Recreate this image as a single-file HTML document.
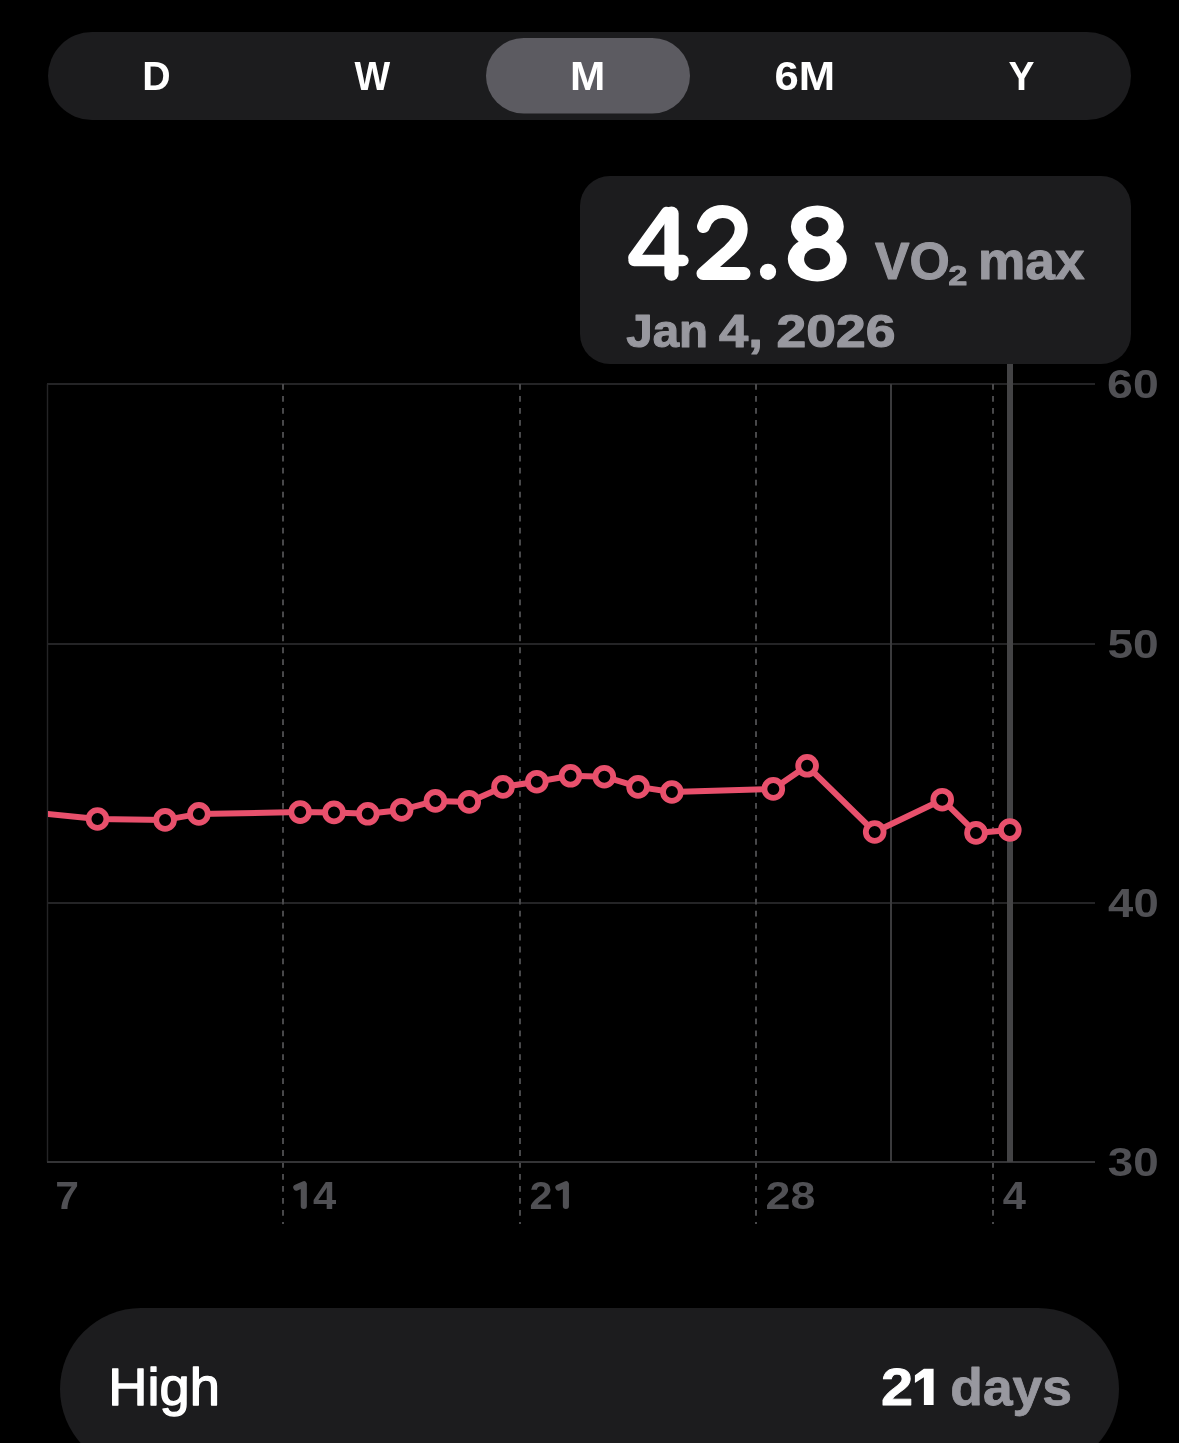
<!DOCTYPE html>
<html><head><meta charset="utf-8"><title>VO2 max</title>
<style>
html,body{margin:0;padding:0;background:#000;width:1179px;height:1443px;overflow:hidden}
svg{display:block;will-change:transform}
text{font-family:"Liberation Sans",sans-serif;font-kerning:none}
</style></head><body>
<svg width="1179" height="1443" viewBox="0 0 1179 1443">
<rect width="1179" height="1443" fill="#000"/>
<rect x="48" y="32" width="1083" height="88" rx="44" fill="#1C1C1E"/>
<rect x="486" y="38" width="204" height="75.5" rx="37.75" fill="#5C5B61"/>
<text transform="translate(142.17 90.00) scale(0.9725 1)" font-size="40.41" font-weight="700" fill="#fff">D</text>
<text transform="translate(354.46 90.00) scale(0.9354 1)" font-size="40.41" font-weight="700" fill="#fff">W</text>
<text transform="translate(569.97 90.00) scale(1.0476 1)" font-size="40.41" font-weight="700" fill="#fff">M</text>
<text transform="translate(774.40 90.00) scale(1.0799 1)" font-size="40.41" font-weight="700" fill="#fff">6M</text>
<text transform="translate(1008.43 90.00) scale(0.9645 1)" font-size="40.41" font-weight="700" fill="#fff">Y</text>
<rect x="580" y="176" width="551" height="188" rx="30" fill="#1C1C1E"/>
<g fill="none" stroke="#fff" stroke-linecap="round" stroke-linejoin="round"><path d="M682.9 260.5 L634.1 260.5" stroke-width="11.5"/><path d="M633.6 257.5 L666.5 212.2" stroke-width="10.8"/><path d="M671.5 213.65 L671.5 273.65" stroke-width="14.3"/><path d="M703.5 226.5 C707 216 714 211.5 722.5 211.5 C733.5 211.5 741.2 219 741.2 229 C741.2 237 737 243 729 250.5 L703 273.5 L744 273.5" stroke-width="13"/></g>
<circle cx="768" cy="271.8" r="8.1" fill="#fff"/>
<ellipse cx="817.3" cy="259" rx="29.5" ry="22.5" fill="#fff"/>
<ellipse cx="817.35" cy="226.7" rx="26.45" ry="21.2" fill="#fff"/>
<ellipse cx="817.15" cy="226.7" rx="11.35" ry="9.7" fill="#1C1C1E"/>
<ellipse cx="817.15" cy="259" rx="13.05" ry="11.05" fill="#1C1C1E"/>
<text transform="translate(874.90 279.35) scale(0.9995 1)" font-size="51.75" font-weight="700" fill="#98989F" stroke="#98989F" stroke-width="1.10" stroke-linejoin="round">VO</text>
<text transform="translate(948.38 284.95) scale(1.2174 1)" font-size="27.64" font-weight="700" fill="#98989F" stroke="#98989F" stroke-width="1.10" stroke-linejoin="round">2</text>
<text transform="translate(978.04 279.25) scale(1.0112 1)" font-size="52.62" font-weight="700" fill="#98989F" stroke="#98989F" stroke-width="1.10" stroke-linejoin="round">max</text>
<text transform="translate(626.33 347.25) scale(1.0463 1)" font-size="45.35" font-weight="700" fill="#98989F" stroke="#98989F" stroke-width="1.10" stroke-linejoin="round">Jan</text>
<text transform="translate(719.05 347.25) scale(1.1502 1)" font-size="45.79" font-weight="700" fill="#98989F" stroke="#98989F" stroke-width="1.10" stroke-linejoin="round">4,</text>
<text transform="translate(776.50 347.25) scale(1.1707 1)" font-size="45.69" font-weight="700" fill="#98989F" stroke="#98989F" stroke-width="1.10" stroke-linejoin="round">2026</text>
<line x1="47" y1="384.0" x2="1095" y2="384.0" stroke="#242426" stroke-width="2"/>
<line x1="47" y1="644.0" x2="1095" y2="644.0" stroke="#242426" stroke-width="2"/>
<line x1="47" y1="903.0" x2="1095" y2="903.0" stroke="#242426" stroke-width="2"/>
<line x1="47.5" y1="384" x2="47.5" y2="1162" stroke="#242426" stroke-width="1.4"/>
<line x1="891" y1="384" x2="891" y2="1162" stroke="#3A3A3C" stroke-width="2"/>
<line x1="283.0" y1="384" x2="283.0" y2="1224" stroke="#48484A" stroke-width="2" stroke-dasharray="5.8 6.17"/>
<line x1="520.0" y1="384" x2="520.0" y2="1224" stroke="#48484A" stroke-width="2" stroke-dasharray="5.8 6.17"/>
<line x1="756.0" y1="384" x2="756.0" y2="1224" stroke="#48484A" stroke-width="2" stroke-dasharray="5.8 6.17"/>
<line x1="993.0" y1="384" x2="993.0" y2="1224" stroke="#48484A" stroke-width="2" stroke-dasharray="5.8 6.17"/>
<line x1="47" y1="1162" x2="1095" y2="1162" stroke="#343436" stroke-width="2"/>
<line x1="1010" y1="364" x2="1010" y2="1162" stroke="#434345" stroke-width="6"/>
<text transform="translate(1107.10 398.20) scale(1.1487 1)" font-size="40.39" font-weight="700" fill="#505054">60</text>
<text transform="translate(1107.38 658.10) scale(1.1422 1)" font-size="40.39" font-weight="700" fill="#505054">50</text>
<text transform="translate(1108.11 916.90) scale(1.1253 1)" font-size="40.39" font-weight="700" fill="#505054">40</text>
<text transform="translate(1107.75 1176.10) scale(1.1337 1)" font-size="40.39" font-weight="700" fill="#505054">30</text>
<text transform="translate(55.17 1208.80) scale(1.0783 1)" font-size="39.53" font-weight="700" fill="#505054">7</text>
<text transform="translate(312.97 1208.80) scale(1.0580 1)" font-size="39.53" font-weight="700" fill="#505054">4</text>
<text transform="translate(529.57 1208.80) scale(1.0457 1)" font-size="39.53" font-weight="700" fill="#505054">2</text>
<text transform="translate(765.55 1208.80) scale(1.1334 1)" font-size="39.53" font-weight="700" fill="#505054">28</text>
<text transform="translate(1002.77 1208.80) scale(1.0532 1)" font-size="39.53" font-weight="700" fill="#505054">4</text>
<path d="M296.3 1187.6 L303.8 1184.2 L303.8 1206" fill="none" stroke="#505054" stroke-width="6.1" stroke-linecap="round" stroke-linejoin="round"/>
<path d="M558.4 1187.6 L565.9 1184.2 L565.9 1206" fill="none" stroke="#505054" stroke-width="6.1" stroke-linecap="round" stroke-linejoin="round"/>
<clipPath id="cp"><rect x="48" y="300" width="1100" height="900"/></clipPath>
<path d="M28.0 812.0 L97.5 819.0 L165.1 819.9 L198.9 813.9 L300.2 812.1 L334.0 812.4 L367.8 813.8 L401.6 809.9 L435.4 800.9 L469.2 801.9 L503.0 786.9 L536.8 781.7 L570.5 775.8 L604.3 776.7 L638.1 786.9 L671.9 792.0 L773.3 788.9 L807.1 765.8 L874.7 832.0 L942.2 799.7 L976.0 832.9 L1009.8 830.0" fill="none" stroke="#E8506C" stroke-width="6" stroke-linejoin="round" clip-path="url(#cp)"/>
<circle cx="97.5" cy="819.0" r="8.9" fill="#000" stroke="#E8506C" stroke-width="5.8"/>
<circle cx="165.1" cy="819.9" r="8.9" fill="#000" stroke="#E8506C" stroke-width="5.8"/>
<circle cx="198.9" cy="813.9" r="8.9" fill="#000" stroke="#E8506C" stroke-width="5.8"/>
<circle cx="300.2" cy="812.1" r="8.9" fill="#000" stroke="#E8506C" stroke-width="5.8"/>
<circle cx="334.0" cy="812.4" r="8.9" fill="#000" stroke="#E8506C" stroke-width="5.8"/>
<circle cx="367.8" cy="813.8" r="8.9" fill="#000" stroke="#E8506C" stroke-width="5.8"/>
<circle cx="401.6" cy="809.9" r="8.9" fill="#000" stroke="#E8506C" stroke-width="5.8"/>
<circle cx="435.4" cy="800.9" r="8.9" fill="#000" stroke="#E8506C" stroke-width="5.8"/>
<circle cx="469.2" cy="801.9" r="8.9" fill="#000" stroke="#E8506C" stroke-width="5.8"/>
<circle cx="503.0" cy="786.9" r="8.9" fill="#000" stroke="#E8506C" stroke-width="5.8"/>
<circle cx="536.8" cy="781.7" r="8.9" fill="#000" stroke="#E8506C" stroke-width="5.8"/>
<circle cx="570.5" cy="775.8" r="8.9" fill="#000" stroke="#E8506C" stroke-width="5.8"/>
<circle cx="604.3" cy="776.7" r="8.9" fill="#000" stroke="#E8506C" stroke-width="5.8"/>
<circle cx="638.1" cy="786.9" r="8.9" fill="#000" stroke="#E8506C" stroke-width="5.8"/>
<circle cx="671.9" cy="792.0" r="8.9" fill="#000" stroke="#E8506C" stroke-width="5.8"/>
<circle cx="773.3" cy="788.9" r="8.9" fill="#000" stroke="#E8506C" stroke-width="5.8"/>
<circle cx="807.1" cy="765.8" r="8.9" fill="#000" stroke="#E8506C" stroke-width="5.8"/>
<circle cx="874.7" cy="832.0" r="8.9" fill="#000" stroke="#E8506C" stroke-width="5.8"/>
<circle cx="942.2" cy="799.7" r="8.9" fill="#000" stroke="#E8506C" stroke-width="5.8"/>
<circle cx="976.0" cy="832.9" r="8.9" fill="#000" stroke="#E8506C" stroke-width="5.8"/>
<circle cx="1009.8" cy="830.0" r="8.9" fill="#000" stroke="#E8506C" stroke-width="5.8"/>
<rect x="60" y="1308" width="1059" height="162" rx="81" fill="#1C1C1E"/>
<text transform="translate(108.30 1404.55) scale(1.0644 1)" font-size="51.02" font-weight="400" fill="#fff" stroke="#fff" stroke-width="1.30" stroke-linejoin="round">High</text>
<text transform="translate(881.10 1404.80) scale(1.1076 1)" font-size="52.13" font-weight="700" fill="#fff" stroke="#fff" stroke-width="0.80" stroke-linejoin="round">2</text>
<path d="M923.9 1368.8 L933.6 1368.8 L933.6 1405.1 L923.9 1405.1 L923.9 1377.3 L914.9 1382.9 L914.9 1375.3 Z" fill="#fff"/>
<text transform="translate(950.31 1404.80) scale(1.0315 1)" font-size="51.75" font-weight="700" fill="#98989F" stroke="#98989F" stroke-width="0.80" stroke-linejoin="round">days</text>
</svg>
</body></html>
